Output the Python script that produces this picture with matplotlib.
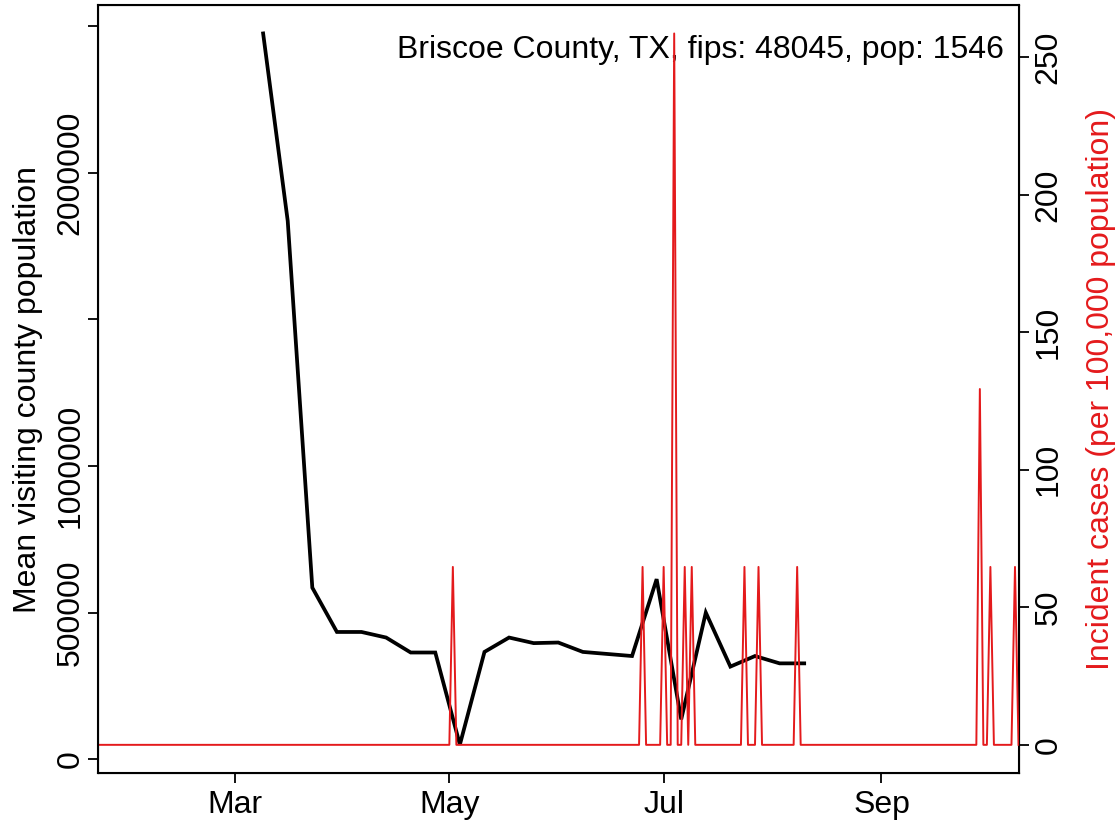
import datetime as dt
import numpy as np
import pandas as pd
import matplotlib
matplotlib.use('Agg')
import matplotlib.pyplot as plt
import matplotlib.dates as mdates

plt.rcParams['font.family'] = ['Liberation Sans', 'DejaVu Sans']

# weekly mean visiting county population (black line)
visit_dates = pd.date_range('2020-03-09', '2020-08-10', freq='7D')
visit_pop = [2474000, 1835000, 585000, 434000, 434000, 415000, 364000, 364000,
             50000, 366000, 415000, 396000, 398000, 366000, 359000, 352000,
             614000, 136000, 500000, 316000, 352000, 327000, 327000]

# daily incident cases per 100,000 (red line): days with cases, all others zero
case_start, case_end = '2020-01-22', '2020-10-10'
spike_dates = ['2020-05-02', '2020-06-25', '2020-07-01', '2020-07-04', '2020-07-07',
               '2020-07-09', '2020-07-24', '2020-07-28', '2020-08-08', '2020-09-29',
               '2020-10-02', '2020-10-09']
spike_rates = [64.7, 64.7, 64.7, 258.7, 64.7, 64.7, 64.7, 64.7, 64.7, 129.4, 64.7, 64.7]

title_text = 'Briscoe County, TX, fips: 48045, pop: 1546'

case_series = pd.Series(0.0, index=pd.date_range(case_start, case_end, freq='D'))
case_series[pd.to_datetime(spike_dates)] = spike_rates

red = '#E41A1C'
fs = 23

fig = plt.figure(figsize=(11.19, 8.22), dpi=100)
ax = fig.add_axes([98 / 1119, 1 - 773.3 / 822, (1018.5 - 98) / 1119, (773.3 - 5) / 822])

ax.plot(visit_dates, visit_pop, color='black', lw=2.7, solid_joinstyle='miter')
ax.set_xlim(pd.Timestamp(case_start), pd.Timestamp(case_end))
ax.set_ylim(-47700, 2570900)
ax.set_yticks([0, 500000, 1000000, 1500000, 2000000, 2500000])
ax.set_yticklabels(['0', '500000', '1000000', '', '2000000', ''], rotation=90, va='center')
ax.set_ylabel('Mean visiting county population', fontsize=fs, labelpad=9)

ax.xaxis.set_major_locator(mdates.MonthLocator(bymonth=[3, 5, 7, 9]))
ax.xaxis.set_major_formatter(mdates.DateFormatter('%b'))
ax.tick_params(axis='both', labelsize=fs, length=7, width=1.3, direction='out', pad=5)
ax.tick_params(axis='y', pad=2)

for s in ax.spines.values():
    s.set_linewidth(1.5)

ax2 = ax.twinx()
ax2.plot(case_series.index, case_series.values, color=red, lw=1.4)
ax2.set_ylim(-10.35, 269.05)
ax2.set_yticks([0, 50, 100, 150, 200, 250])
ax2.set_yticklabels(['0', '50', '100', '150', '200', '250'], rotation=90, va='center')
ax2.tick_params(axis='y', labelsize=fs, length=7, width=1.3, direction='out', pad=4)
ax2.set_ylabel('Incident cases (per 100,000 population)', color=red, fontsize=fs, labelpad=16)
ax2.set_xlim(pd.Timestamp(case_start), pd.Timestamp(case_end))

ax.text(0.984, 0.961, title_text, transform=ax.transAxes, ha='right', va='top', fontsize=fs)

fig.savefig('out.png', dpi=100)
